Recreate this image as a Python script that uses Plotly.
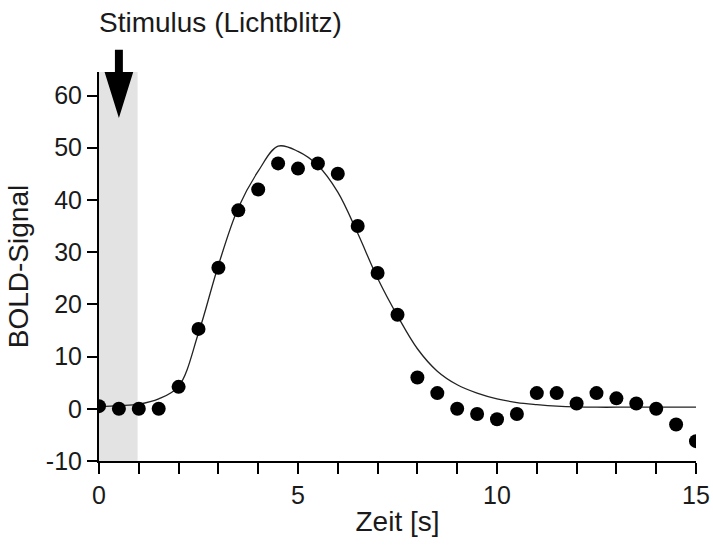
import plotly.graph_objects as go

# Measured BOLD signal (points), every 0.5 s
t_points = [0, 0.5, 1, 1.5, 2, 2.5, 3, 3.5, 4, 4.5, 5, 5.5, 6, 6.5, 7, 7.5,
            8, 8.5, 9, 9.5, 10, 10.5, 11, 11.5, 12, 12.5, 13, 13.5, 14, 14.5, 15]
bold_points = [0.5, 0, 0, 0, 4.2, 15.3, 27, 38, 42, 47, 46, 47, 45, 35, 26, 18,
               6, 3, 0, -1, -2, -1, 3, 3, 1, 3, 2, 1, 0, -3, -6.2]

# Fitted response curve
t_fit = [0, 0.5, 1, 1.5, 2, 2.5, 3, 3.5, 4, 4.5, 5, 5.5, 6, 6.5, 7, 7.5,
         8, 8.5, 9, 9.5, 10, 10.5, 11, 11.5, 12, 12.5, 13, 13.5, 14, 14.5, 15]
bold_fit = [0.4, 0.6, 0.9, 1.9, 4.3, 14.5, 27.5, 38.5, 45.5, 50.3, 49.3, 46.6, 41.5, 33.6, 25, 17.8,
            11.5, 7.2, 4.6, 3.0, 1.9, 1.2, 0.8, 0.5, 0.35, 0.3, 0.3, 0.3, 0.3, 0.3, 0.3]

# Stimulus period
stim_start, stim_end = 0, 0.97
arrow_x = 0.5

x_tickvals = list(range(0, 16))
x_ticktext = [str(v) if v % 5 == 0 else "" for v in x_tickvals]
y_tickvals = [-10, 0, 10, 20, 30, 40, 50, 60]
y_ticktext = ["-10", "0", "10", "20", "30", "40", "50", "60"]

FONT = "Liberation Sans, Arial, sans-serif"
INK = "#1a1a1a"

fig = go.Figure()

fig.add_trace(go.Scatter(
    x=t_fit, y=bold_fit, mode="lines",
    line=dict(color="#222222", width=1.3, shape="spline", smoothing=1.0),
    hoverinfo="skip", showlegend=False,
))
fig.add_trace(go.Scatter(
    x=t_points, y=bold_points, mode="markers",
    marker=dict(color="black", size=14),
    showlegend=False,
))

# grey stimulus band
fig.add_shape(type="rect", xref="x", yref="paper",
              x0=stim_start, x1=stim_end, y0=0, y1=1,
              fillcolor="#e3e3e3", line=dict(width=0), layer="below")

# arrow (shaft + head) above the band
hw = 0.1
hh = 0.36
fig.add_shape(type="path", xref="x", yref="paper",
              path=(f"M {arrow_x-hw} 1.057 L {arrow_x+hw} 1.057 L {arrow_x+hw} 1.0 "
                    f"L {arrow_x+hh} 1.0 L {arrow_x} 0.882 L {arrow_x-hh} 1.0 "
                    f"L {arrow_x-hw} 1.0 Z"),
              fillcolor="black", line=dict(width=0), layer="above")

fig.add_annotation(text="Stimulus (Lichtblitz)", xref="paper", yref="paper",
                   x=-0.003, y=1.128, xanchor="left", yanchor="middle",
                   showarrow=False, font=dict(size=28, color=INK, family=FONT))

fig.update_layout(
    width=713, height=546,
    margin=dict(l=99, r=17, t=72, b=85),
    paper_bgcolor="white", plot_bgcolor="white",
    font=dict(family=FONT, color=INK, size=25),
    xaxis=dict(
        range=[0, 15], tickvals=x_tickvals, ticktext=x_ticktext,
        ticks="outside", ticklen=11, tickwidth=2, tickcolor="black",
        showline=True, linecolor="black", linewidth=2,
        showgrid=False, zeroline=False, automargin=False,
        tickfont=dict(size=25, color=INK),
        title=dict(text="Zeit [s]", font=dict(size=28, color=INK), standoff=3),
    ),
    yaxis=dict(
        range=[-10, 64.5], tickvals=y_tickvals, ticktext=y_ticktext,
        ticks="outside", ticklen=10, tickwidth=2, tickcolor="black",
        showline=True, linecolor="black", linewidth=2,
        showgrid=False, zeroline=False, automargin=False,
        tickfont=dict(size=25, color=INK),
        title=dict(text="BOLD-Signal", font=dict(size=28, color=INK), standoff=9),
    ),
)

fig.write_html("out.html")
